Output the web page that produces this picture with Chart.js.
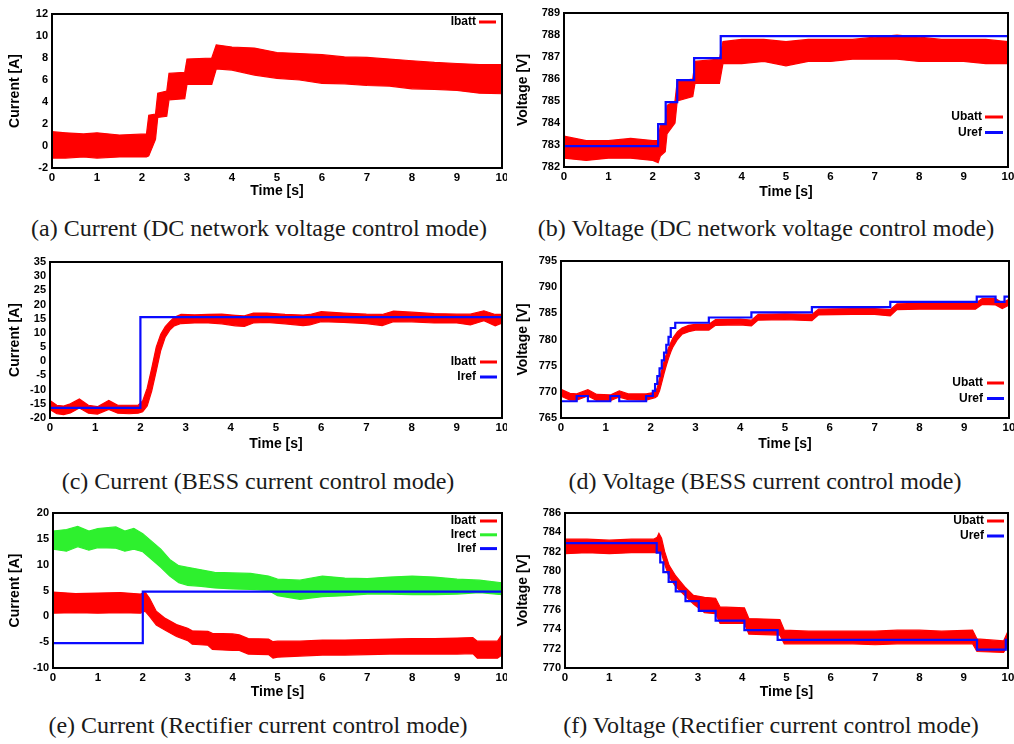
<!DOCTYPE html>
<html><head><meta charset="utf-8">
<script src="https://cdn.jsdelivr.net/npm/chart.js@4.4.1/dist/chart.umd.min.js"></script>
<style>
html,body{margin:0;padding:0;background:#fff;}
body{width:1014px;height:744px;position:relative;overflow:hidden;}
canvas{position:absolute;}
.cap{position:absolute;width:600px;text-align:center;font-family:"Liberation Serif","Times New Roman",serif;font-size:24px;line-height:28px;color:#1a1a1a;white-space:nowrap;}
</style></head><body>
<canvas id="ca" width="507" height="200" style="left:0;top:0"></canvas>
<canvas id="cb" width="507" height="201" style="left:507px;top:0"></canvas>
<canvas id="cc" width="507" height="203" style="left:0;top:250px"></canvas>
<canvas id="cd" width="507" height="203" style="left:507px;top:250px"></canvas>
<canvas id="ce" width="507" height="201" style="left:0;top:500px"></canvas>
<canvas id="cf" width="507" height="201" style="left:507px;top:500px"></canvas>
<div class="cap" style="left:-41px;top:214px">(a) Current (DC network voltage control mode)</div>
<div class="cap" style="left:466px;top:214px">(b) Voltage (DC network voltage control mode)</div>
<div class="cap" style="left:-42px;top:467px">(c) Current (BESS current control mode)</div>
<div class="cap" style="left:465px;top:467px">(d) Voltage (BESS current control mode)</div>
<div class="cap" style="left:-42px;top:711px">(e) Current (Rectifier current control mode)</div>
<div class="cap" style="left:471px;top:711px">(f) Voltage (Rectifier current control mode)</div>
<script>
// ---------- tick labels ----------
const xTicks = [0,1,2,3,4,5,6,7,8,9,10];
const yTicksA = [-2,0,2,4,6,8,10,12];
const yTicksB = [782,783,784,785,786,787,788,789];
const yTicksC = [-20,-15,-10,-5,0,5,10,15,20,25,30,35];
const yTicksD = [765,770,775,780,785,790,795];
const yTicksE = [-10,-5,0,5,10,15,20];
const yTicksF = [770,772,774,776,778,780,782,784,786];

// ---------- series names ----------
const namesA = ['Ibatt'];
const namesB = ['Ubatt','Uref'];
const namesC = ['Ibatt','Iref'];
const namesD = ['Ubatt','Uref'];
const namesE = ['Ibatt','Irect','Iref'];
const namesF = ['Ubatt','Uref'];

// ---------- (a) Ibatt envelope ----------
const tA     = [0,0.3,0.7,1.0,1.5,2.1,2.15,2.3,2.35,2.55,2.6,2.95,3.0,3.55,3.65,4.0,4.5,5.0,5.5,6.0,6.5,7.0,7.5,8.0,8.5,9.0,9.5,10];
const upperA = [1.3,1.2,1.1,1.2,1.0,1.1,2.8,2.9,4.8,5.0,6.6,6.7,7.9,8.0,9.2,9.0,8.9,8.5,8.4,8.3,8.1,8.05,7.9,7.75,7.6,7.5,7.4,7.4];
const lowerA = [-1.1,-1.1,-1.0,-1.1,-1.0,-1.0,-0.9,0.6,2.6,2.7,4.2,4.3,5.6,5.6,7.0,6.9,6.45,6.15,6.0,5.7,5.65,5.5,5.45,5.2,5.15,5.05,4.8,4.75];

// ---------- (b) Ubatt envelope, Uref ----------
const tB     = [0,0.5,1,1.5,2.0,2.12,2.17,2.28,2.32,2.5,2.55,2.9,2.95,3.5,3.58,4,4.5,5,5.5,6,6.5,7,7.5,8,8.5,9,9.5,10];
const upperB = [783.4,783.2,783.2,783.3,783.2,783.2,783.9,784.0,784.8,785.0,785.9,786.0,786.8,786.9,787.7,787.8,787.8,787.7,787.8,787.8,787.8,787.9,788.0,787.9,787.8,787.8,787.8,787.7];
const lowerB = [782.4,782.3,782.4,782.4,782.3,782.2,782.5,782.7,783.5,784.0,785.0,785.2,785.8,785.8,786.7,786.7,786.8,786.6,786.8,786.8,786.9,786.9,786.9,786.8,786.8,786.8,786.7,786.7];
const tUrefB = [0,2.12,2.29,2.55,2.93,3.53,10];
const uUrefB = [782.95,783.95,784.95,785.95,786.95,787.95,787.95];

// ---------- (c) Ibatt envelope, Iref ----------
const tC     = [0,0.15,0.3,0.45,0.65,0.85,1.05,1.3,1.5,1.75,1.95,2.05,2.15,2.25,2.35,2.45,2.55,2.65,2.75,2.9,3.2,3.5,3.8,4.1,4.3,4.5,4.8,5.2,5.6,5.75,6.0,6.5,7.0,7.35,7.6,8.0,8.5,9.0,9.3,9.6,9.85,10];
const upperC = [-13.8,-15.5,-15.8,-15.0,-13.3,-15.5,-16.0,-13.8,-15.5,-15.5,-15.5,-14.0,-9.5,-2.5,5.0,9.5,12.2,14.0,15.5,16.5,16.4,16.5,16.6,16.2,16.0,17.0,17.0,16.5,16.3,16.5,17.5,17.0,16.6,16.5,17.7,17.3,16.8,16.6,16.6,17.8,16.5,16.5];
const lowerC = [-17.0,-18.5,-18.8,-18.2,-16.5,-18.3,-18.6,-17.0,-18.3,-18.5,-18.3,-17.8,-15.8,-10.5,-3.5,3.8,8.5,11.0,12.5,13.3,13.5,13.5,13.2,12.5,12.3,13.5,13.7,13.2,12.6,12.8,14.0,13.7,13.3,12.6,14.0,13.9,13.5,13.5,12.8,14.3,12.5,13.5];
const tIrefC = [0,2.0,10];
const iIrefC = [-16.4,15.6,15.6];

// ---------- (d) Ubatt envelope, Uref ----------
const tD     = [0,0.2,0.35,0.6,0.8,1.1,1.3,1.5,1.9,2.1,2.15,2.2,2.25,2.3,2.35,2.4,2.45,2.5,2.6,2.7,2.85,3.0,3.3,3.45,4.0,4.25,4.4,5.0,5.6,5.75,6.5,7.0,7.35,7.5,8.0,8.5,9.25,9.4,9.7,9.85,10];
const upperD = [770.5,769.7,769.6,770.4,769.5,769.4,770.2,769.6,769.6,769.9,770.8,772.5,774.2,775.8,777.2,778.4,779.4,780.3,781.5,782.2,782.7,782.9,782.9,783.8,783.9,783.7,784.8,784.9,784.8,785.8,785.9,785.9,785.7,786.8,786.9,786.9,786.9,787.8,787.8,787.0,787.7];
const lowerD = [769.2,768.4,768.4,769.2,768.3,768.3,769.0,768.5,768.4,768.9,769.2,770.2,771.8,773.5,775.0,776.4,777.6,778.6,780.0,781.0,781.5,781.8,781.8,782.7,782.8,782.6,783.7,783.8,783.6,784.7,784.8,784.8,784.5,785.7,785.8,785.8,785.8,786.7,786.6,785.9,786.6];
const tUrefD = [0,0.35,0.6,1.1,1.3,1.9,2.05,2.1,2.15,2.2,2.25,2.3,2.35,2.4,2.45,2.55,3.3,4.25,5.6,7.35,9.28,9.7,9.9,10];
const uUrefD = [768.2,769.2,768.2,769.2,768.2,769.2,770.2,771.5,773.0,774.5,776.0,777.5,779.0,780.5,782.2,783.2,784.2,785.2,786.2,787.2,788.2,787.2,788.2,788.2];

// ---------- (e) Ibatt / Irect envelopes, Iref ----------
const tE     = [0,0.5,1.0,1.5,1.95,2.05,2.15,2.3,2.5,2.75,3.0,3.1,3.45,3.55,4.0,4.15,4.35,4.8,4.9,5.0,5.5,6.0,6.5,7.0,7.5,8.0,8.5,9.0,9.35,9.45,9.9,10];
const upperE = [4.7,4.4,4.5,4.6,4.3,4.7,3.5,1.0,-0.4,-1.6,-2.3,-2.8,-2.9,-3.3,-3.4,-3.6,-4.3,-4.4,-4.9,-4.8,-4.8,-4.6,-4.6,-4.5,-4.4,-4.3,-4.3,-4.2,-4.1,-4.8,-4.8,-3.5];
const lowerE = [0.6,0.7,0.6,0.7,0.6,1.0,0.0,-1.7,-2.7,-3.9,-4.7,-5.4,-5.6,-6.4,-6.6,-6.6,-7.3,-7.4,-8.1,-7.9,-7.7,-7.5,-7.5,-7.4,-7.3,-7.3,-7.3,-7.3,-7.2,-8.1,-8.1,-7.5];
const tG     = [0,0.3,0.55,0.8,1.0,1.4,1.6,1.8,2.0,2.2,2.4,2.6,2.8,3.0,3.3,3.6,4.0,4.4,4.8,5.0,5.5,6.0,6.5,7.0,7.5,8.0,8.5,9.0,9.5,10];
const upperG = [16.5,16.8,17.4,16.5,17.0,17.3,16.5,17.0,16.0,14.5,13.0,11.0,9.8,9.5,9.0,8.5,8.4,8.3,7.8,7.2,7.0,7.8,7.4,7.3,7.6,7.8,7.6,7.2,7.0,6.5];
const lowerG = [13.0,12.6,13.5,12.8,13.3,13.2,12.6,13.0,12.5,11.0,9.5,7.8,6.5,6.0,5.8,5.5,5.3,5.2,5.0,4.0,3.3,3.8,4.0,4.3,4.3,4.2,4.2,4.3,4.6,4.2];
const tIrefE = [0,2.0,10];
const iIrefE = [-5.2,4.8,4.8];

// ---------- (f) Ubatt envelope, Uref ----------
const tF     = [0,0.5,1,1.5,2.0,2.08,2.12,2.18,2.25,2.35,2.5,2.7,2.9,3.15,3.4,3.5,4.05,4.15,4.85,4.95,5.5,6,6.5,7,7.5,8,8.5,9.2,9.3,9.9,10];
const upperF = [783.3,783.3,783.2,783.3,783.3,783.5,783.9,783.4,782.0,780.6,779.5,778.4,777.5,777.3,777.2,776.3,776.2,775.1,775.0,773.9,773.8,773.8,773.8,773.8,773.9,773.9,773.8,773.9,773.0,772.8,773.8];
const lowerF = [781.8,781.9,781.8,781.9,781.9,781.9,782.0,781.8,780.7,779.4,778.4,777.5,776.6,775.7,775.6,774.6,774.6,773.5,773.4,772.5,772.5,772.5,772.5,772.4,772.5,772.5,772.5,772.5,771.7,771.6,772.3];
const tUrefF = [0,2.07,2.15,2.22,2.34,2.5,2.72,3.02,3.4,4.05,4.8,9.3,9.95,10];
const uUrefF = [782.9,781.9,780.9,779.9,778.9,777.9,776.9,775.9,774.9,773.9,772.9,771.9,772.9,772.9];

// ---------- helpers ----------
const RED = '#ff0000', BLUE = '#0a0aff', GREEN = '#2ef02e';
const SANS = '"Liberation Sans", Arial, Helvetica, sans-serif';
const pts = (ts, vs) => ts.map((t, i) => ({x: t, y: vs[i]}));

function band(ts, up, lo, color) {
  return [
    {data: pts(ts, up), borderColor: color, backgroundColor: color, borderWidth: 1.2, pointRadius: 0, fill: '+1', tension: 0},
    {data: pts(ts, lo), borderColor: color, backgroundColor: color, borderWidth: 1.2, pointRadius: 0, fill: false, tension: 0}
  ];
}
function stepLine(ts, vs, color) {
  return {data: pts(ts, vs), borderColor: color, borderWidth: 2.2, pointRadius: 0, fill: false, stepped: true};
}

const frameLegend = {
  id: 'frameLegend',
  afterDatasetsDraw(chart, args, o) {
    const {ctx, chartArea: a} = chart;
    ctx.save();
    ctx.strokeStyle = '#000'; ctx.lineWidth = 2;
    ctx.strokeRect(a.left, a.top, a.right - a.left, a.bottom - a.top);
    ctx.font = 'bold 12px ' + SANS;
    ctx.textAlign = 'right'; ctx.textBaseline = 'middle';
    (o.items || []).forEach((it, i) => {
      const y = a.top + o.y + i * o.dy;
      const x1 = a.right - o.dx, x0 = x1 - o.len;
      ctx.fillStyle = '#000';
      ctx.fillText(it.label, x0 - o.gap, y);
      ctx.strokeStyle = it.color; ctx.lineWidth = 3;
      ctx.beginPath(); ctx.moveTo(x0, y); ctx.lineTo(x1, y); ctx.stroke();
    });
    ctx.restore();
  }
};

function make(id, c) {
  new Chart(document.getElementById(id), {
    type: 'line',
    data: {datasets: c.datasets},
    plugins: [frameLegend],
    options: {
      responsive: false, animation: false, devicePixelRatio: 1,
      layout: {padding: {left: 0, top: c.padTop, right: c.padRight, bottom: 0}},
      plugins: {legend: {display: false}, tooltip: {enabled: false},
        frameLegend: c.legend},
      scales: {
        x: {
          type: 'linear', min: 0, max: 10,
          grid: {display: false, drawTicks: false}, border: {display: false},
          afterBuildTicks: s => { s.ticks = xTicks.map(v => ({value: v})); },
          afterFit: s => { s.height = c.xH; s.paddingLeft = 0; s.paddingRight = 0; },
          ticks: {autoSkip: false, maxRotation: 0, padding: 3, color: '#000',
            font: {family: SANS, size: 11.5, weight: 'bold'}, callback: v => String(v)},
          title: {display: true, text: 'Time [s]', color: '#000', padding: {top: 0, bottom: 0},
            font: {family: SANS, size: 14, weight: 'bold'}}
        },
        y: {
          type: 'linear', min: c.yT[0], max: c.yT[c.yT.length - 1],
          grid: {display: false, drawTicks: false}, border: {display: false},
          afterBuildTicks: s => { s.ticks = c.yT.map(v => ({value: v})); },
          afterFit: s => { s.width = c.yW; s.paddingTop = 0; s.paddingBottom = 0; },
          ticks: {autoSkip: false, padding: 4, color: '#000',
            font: {family: SANS, size: 11, weight: 'bold'}, callback: v => String(v)},
          title: {display: true, text: c.yTitle, color: '#000', padding: {top: c.yTitlePad, bottom: 0},
            font: {family: SANS, size: 14, weight: 'bold'}}
        }
      }
    }
  });
}

make('ca', {
  datasets: [...band(tA, upperA, lowerA, RED)],
  padTop: 14, padRight: 5, yW: 52, xH: 32, yTitlePad: 6.6, yT: yTicksA, yTitle: 'Current [A]',
  legend: {dx: 6, len: 17, gap: 3, y: 8, dy: 15, items: [{label: namesA[0], color: RED}]}
});
make('cb', {
  datasets: [stepLine(tUrefB, uUrefB, BLUE), ...band(tB, upperB, lowerB, RED)],
  padTop: 13, padRight: 6, yW: 57, xH: 34, yTitlePad: 7.6, yT: yTicksB, yTitle: 'Voltage [V]',
  legend: {dx: 5, len: 18, gap: 3, y: 104, dy: 15.5, items: [{label: namesB[0], color: RED}, {label: namesB[1], color: BLUE}]}
});
make('cc', {
  datasets: [stepLine(tIrefC, iIrefC, BLUE), ...band(tC, upperC, lowerC, RED)],
  padTop: 12, padRight: 5, yW: 50, xH: 35, yTitlePad: 6.6, yT: yTicksC, yTitle: 'Current [A]',
  legend: {dx: 5, len: 17, gap: 4, y: 100, dy: 15, items: [{label: namesC[0], color: RED}, {label: namesC[1], color: BLUE}]}
});
make('cd', {
  datasets: [stepLine(tUrefD, uUrefD, BLUE), ...band(tD, upperD, lowerD, RED)],
  padTop: 11, padRight: 5, yW: 54, xH: 35, yTitlePad: 7.6, yT: yTicksD, yTitle: 'Voltage [V]',
  legend: {dx: 5, len: 17, gap: 4, y: 122, dy: 15.5, items: [{label: namesD[0], color: RED}, {label: namesD[1], color: BLUE}]}
});
make('ce', {
  datasets: [stepLine(tIrefE, iIrefE, BLUE), ...band(tE, upperE, lowerE, RED), ...band(tG, upperG, lowerG, GREEN)],
  padTop: 13, padRight: 5, yW: 53, xH: 33, yTitlePad: 6.6, yT: yTicksE, yTitle: 'Current [A]',
  legend: {dx: 5, len: 17, gap: 4, y: 8, dy: 13.8, items: [{label: namesE[0], color: RED}, {label: namesE[1], color: GREEN}, {label: namesE[2], color: BLUE}]}
});
make('cf', {
  datasets: [stepLine(tUrefF, uUrefF, BLUE), ...band(tF, upperF, lowerF, RED)],
  padTop: 13, padRight: 6, yW: 58, xH: 33, yTitlePad: 7.6, yT: yTicksF, yTitle: 'Voltage [V]',
  legend: {dx: 4, len: 17, gap: 3, y: 8, dy: 15, items: [{label: namesF[0], color: RED}, {label: namesF[1], color: BLUE}]}
});
</script>
</body></html>
